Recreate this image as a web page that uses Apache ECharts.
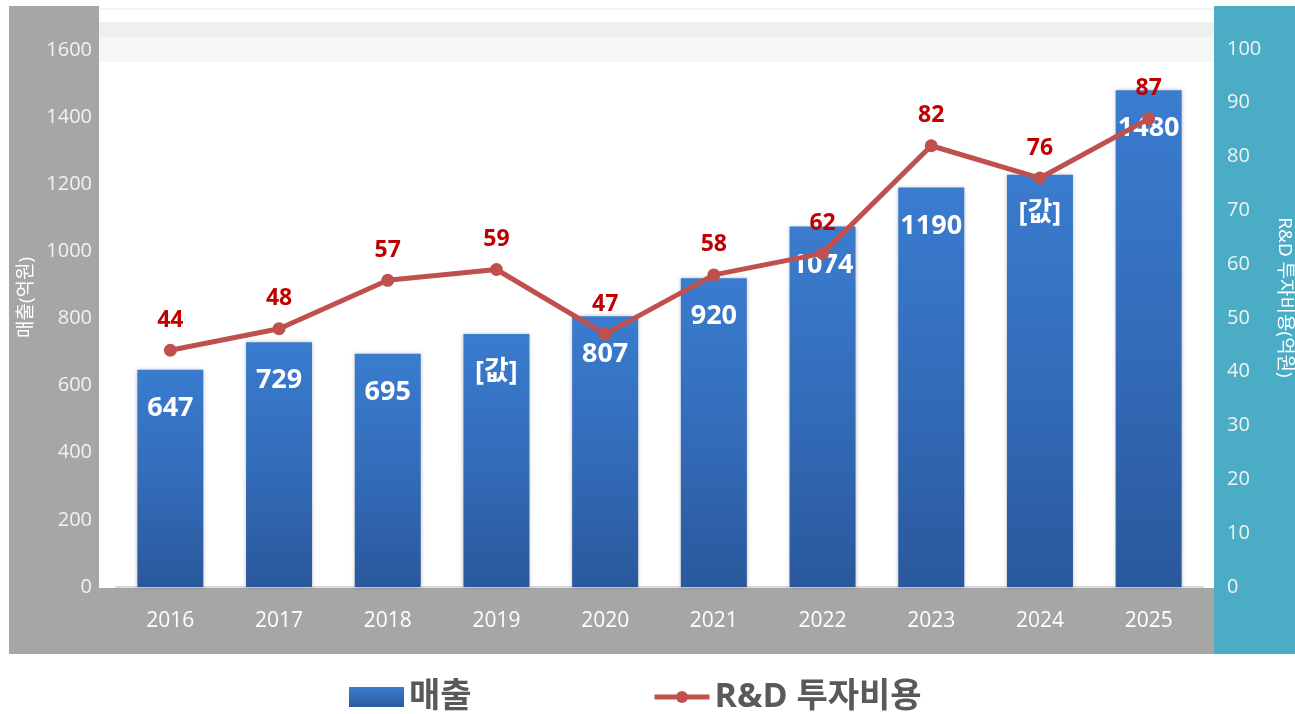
<!DOCTYPE html>
<html>
<head>
<meta charset="utf-8">
<script src="https://cdn.jsdelivr.net/npm/echarts@6/dist/echarts.min.js"></script>
<style>
  html, body { margin: 0; padding: 0; background: #ffffff; }
  #chart { width: 1295px; height: 714px; }
</style>
</head>
<body>
<div id="chart"></div>
<script>
// chart data
const years = ['2016', '2017', '2018', '2019', '2020', '2021', '2022', '2023', '2024', '2025'];
const sales = [647, 729, 695, 754, 807, 920, 1074, 1190, 1228, 1480];
const salesLabels = ['647', '729', '695', '[값]', '807', '920', '1074', '1190', '[값]', '1480'];
const rnd = [44, 48, 57, 59, 47, 58, 62, 82, 76, 87];

const FONT = "'Open Sans', 'Noto Sans CJK KR', sans-serif";

const chart = echarts.init(document.getElementById('chart'));

const option = {
    animation: false,
    textStyle: { fontFamily: FONT },
    graphic: [
        // grey panel behind left axis and category axis
        { type: 'rect', z: -10, shape: { x: 9, y: 6, width: 1205, height: 648 }, style: { fill: '#a6a6a6' } },
        // teal panel behind right axis
        { type: 'rect', z: -10, shape: { x: 1214, y: 6, width: 81, height: 648 }, style: { fill: '#4bacc6' } },
        // white plot background with faint top bands
        { type: 'rect', z: -9, shape: { x: 99, y: 6, width: 1115, height: 582 }, style: { fill: '#ffffff' } },
        { type: 'rect', z: -8, shape: { x: 99, y: 22, width: 1115, height: 15 }, style: { fill: '#efefef' } },
        { type: 'rect', z: -8, shape: { x: 99, y: 37, width: 1115, height: 25 }, style: { fill: '#f6f6f6' } },
        { type: 'line', z: -8, shape: { x1: 99, y1: 9, x2: 1214, y2: 9 }, style: { stroke: '#e6e6e6', lineWidth: 1 } }
    ],
    grid: {
        left: 116,
        right: 92,
        top: 8,
        bottom: 127,
        outerBoundsMode: 'none'
    },
    legend: [
        {
            data: ['매출'],
            left: 349,
            top: 680,
            padding: 0,
            itemWidth: 55,
            itemHeight: 20,
            icon: 'rect',
            textStyle: { fontSize: 34, fontWeight: 'bold', color: '#595959', fontFamily: FONT }
        },
        {
            data: ['R&D 투자비용'],
            left: 652,
            top: 680,
            padding: 0,
            itemWidth: 55,
            itemHeight: 15,
            lineStyle: { width: 5 },
            textStyle: { fontSize: 34, fontWeight: 'bold', color: '#595959', fontFamily: FONT }
        }
    ],
    xAxis: {
        type: 'category',
        data: years,
        axisLine: { lineStyle: { color: '#d9d9d9', width: 2 } },
        axisTick: { show: false },
        axisLabel: { color: '#ffffff', fontSize: 21, margin: 24 }
    },
    yAxis: [
        {
            type: 'value',
            min: 0,
            max: 1725,
            interval: 200,
            name: '매출(억원)',
            nameLocation: 'middle',
            nameGap: 80,
            nameMoveOverlap: false,
            nameRotate: 90,
            nameTextStyle: { color: '#ffffff', fontSize: 19 },
            axisLine: { show: false },
            axisTick: { show: false },
            splitLine: { show: false },
            axisLabel: { color: '#f2f2f2', fontSize: 20, margin: 24, showMaxLabel: false, formatter: v => String(v) }
        },
        {
            type: 'value',
            min: 0,
            max: 107.6,
            interval: 10,
            name: 'R&D 투자비용(억원)',
            nameLocation: 'middle',
            nameGap: 72,
            nameRotate: -90,
            nameTextStyle: { color: '#ffffff', fontSize: 19 },
            axisLine: { show: false },
            axisTick: { show: false },
            splitLine: { show: false },
            axisLabel: { color: '#f2f2f2', fontSize: 20, margin: 24, showMaxLabel: false }
        }
    ],
    series: [
        {
            name: '매출',
            type: 'bar',
            data: sales,
            barWidth: 66,
            itemStyle: {
                color: new echarts.graphic.LinearGradient(0, 0, 0, 1, [
                    { offset: 0, color: '#3a7ccf' },
                    { offset: 0.5, color: '#336cb9' },
                    { offset: 1, color: '#2a589c' }
                ]),
                shadowBlur: 4,
                shadowColor: 'rgba(0,0,0,0.25)'
            },
            label: {
                show: true,
                position: 'insideTop',
                distance: 25,
                color: '#ffffff',
                fontSize: 27,
                fontWeight: 'bold',
                fontFamily: FONT,
                formatter: p => salesLabels[p.dataIndex]
            }
        },
        {
            name: 'R&D 투자비용',
            type: 'line',
            yAxisIndex: 1,
            data: rnd,
            symbol: 'circle',
            symbolSize: 13,
            lineStyle: { color: '#c0504d', width: 5 },
            itemStyle: { color: '#c0504d' },
            label: {
                show: true,
                position: 'top',
                distance: 12,
                color: '#c00000',
                fontSize: 23,
                fontWeight: 'bold',
                fontFamily: FONT
            }
        }
    ]
};

chart.setOption(option);
</script>
</body>
</html>
